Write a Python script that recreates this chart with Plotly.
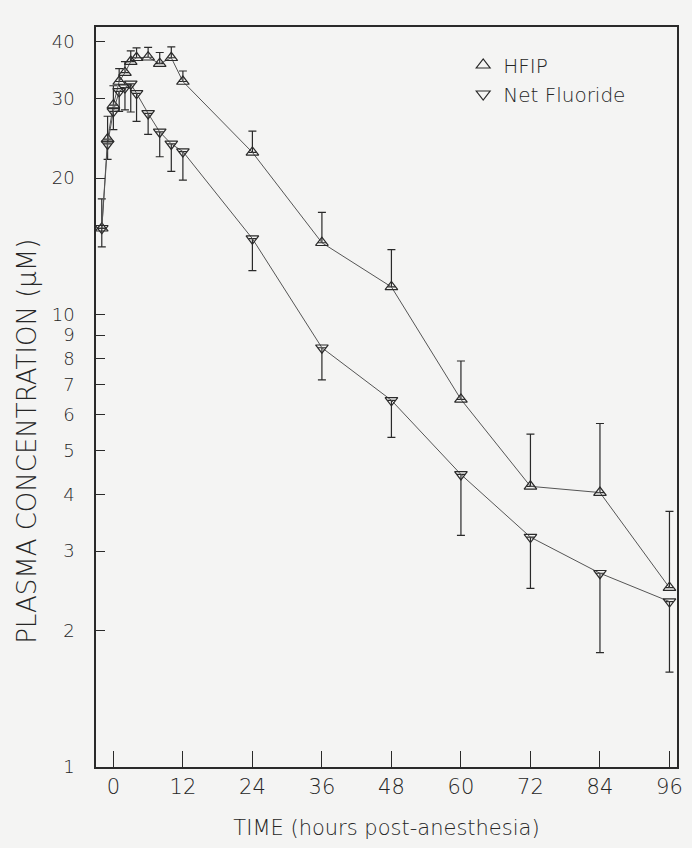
import plotly.graph_objects as go

# Time points (hours post-anesthesia)
hfip_t = [-2, -1, 0, 1, 2, 3, 4, 6, 8, 10, 12, 24, 36, 48, 60, 72, 84, 96]
hfip_v = [15.5, 24.4, 29.0, 32.7, 34.2, 36.2, 36.9, 37.0, 35.8, 36.9, 32.7, 22.8, 14.4, 11.5, 6.49, 4.17, 4.04, 2.49]
hfip_err = [2.5, 3.0, 3.0, 2.2, 2.0, 2.0, 1.9, 1.9, 2.1, 2.1, 1.8, 2.6, 2.4, 2.4, 1.4, 1.27, 1.7, 1.18]

fl_t = [-2, -1, 0, 1, 2, 3, 4, 6, 8, 10, 12, 24, 36, 48, 60, 72, 84, 96]
fl_v = [15.5, 23.8, 28.1, 31.1, 31.7, 32.3, 30.8, 27.8, 25.3, 23.8, 22.9, 14.7, 8.44, 6.46, 4.43, 3.22, 2.68, 2.32]
fl_err = [1.4, 1.8, 2.5, 3.0, 3.4, 4.3, 4.1, 2.8, 3.0, 3.1, 3.1, 2.2, 1.27, 1.11, 1.18, 0.74, 0.89, 0.7]

x_ticks = [0, 12, 24, 36, 48, 60, 72, 84, 96]
y_ticks = [1, 2, 3, 4, 5, 6, 7, 8, 9, 10, 20, 30, 40]

INK = "#2a2a2a"
LINE = "#555555"
TXT = "#262626"
FONT = "DejaVu Sans"

fig = go.Figure()
fig.add_trace(go.Scatter(
    x=hfip_t, y=hfip_v, name="HFIP", mode="lines+markers", showlegend=False,
    line=dict(color=LINE, width=1),
    marker=dict(symbol="triangle-up-open", size=11, color=INK, line=dict(width=1.2, color=INK)),
    error_y=dict(type="data", symmetric=False, array=hfip_err, arrayminus=[0] * len(hfip_err),
                 color=INK, thickness=1.2, width=4),
))
fig.add_trace(go.Scatter(
    x=fl_t, y=fl_v, name="Net Fluoride", mode="lines+markers", showlegend=False,
    line=dict(color=LINE, width=1),
    marker=dict(symbol="triangle-down-open", size=11, color=INK, line=dict(width=1.2, color=INK)),
    error_y=dict(type="data", symmetric=False, array=[0] * len(fl_err), arrayminus=fl_err,
                 color=INK, thickness=1.2, width=4),
))
# legend entries (marker only, as in the original key)
fig.add_trace(go.Scatter(x=[None], y=[None], name="HFIP", mode="markers",
                         marker=dict(symbol="triangle-up-open", size=12, color=INK, line=dict(width=1.2, color=INK))))
fig.add_trace(go.Scatter(x=[None], y=[None], name="Net Fluoride", mode="markers",
                         marker=dict(symbol="triangle-down-open", size=12, color=INK, line=dict(width=1.2, color=INK))))

W, H = 692, 848
ml, mr, mt, mb = 96, 9, 27, 81
fig.update_layout(
    width=W, height=H, autosize=False,
    margin=dict(l=ml, r=mr, t=mt, b=mb),
    paper_bgcolor="#f4f4f3", plot_bgcolor="#f4f4f3",
    font=dict(family=FONT, color=TXT, size=20),
    showlegend=True,
    legend=dict(x=0.632, y=0.975, xanchor="left", yanchor="top", bgcolor="rgba(0,0,0,0)",
                font=dict(size=20, family=FONT, color=TXT, weight=300), itemwidth=30, tracegroupgap=6),
    xaxis=dict(range=[-3, 97.3], tickvals=x_ticks, ticktext=[str(v) for v in x_ticks],
               ticks="inside", ticklen=16, tickwidth=1.2, tickcolor=INK,
               showline=True, linecolor=INK, linewidth=1.5, mirror=True,
               showgrid=False, zeroline=False,
               tickfont=dict(size=21, family=FONT, color=TXT, weight=300),
               title=dict(text="TIME (hours post-anesthesia)", font=dict(size=21, family=FONT, color=TXT, weight=300), standoff=22)),
    yaxis=dict(type="log", range=[0, 1.635], tickvals=y_ticks, ticktext=[str(v) for v in y_ticks],
               ticks="inside", ticklen=9, tickwidth=1.2, tickcolor=INK,
               showline=True, linecolor=INK, linewidth=1.5, mirror=True,
               showgrid=False, zeroline=False, ticklabelstandoff=16,
               tickfont=dict(size=18, family=FONT, color=TXT, weight=300)),
    annotations=[dict(text="PLASMA CONCENTRATION (\u03bcM)", textangle=-90, showarrow=False,
                      xref="paper", yref="paper", x=-0.118, y=0.44, xanchor="center", yanchor="middle",
                      font=dict(size=26, family=FONT, color=TXT, weight=300))],
)

fig.write_html("out.html")
